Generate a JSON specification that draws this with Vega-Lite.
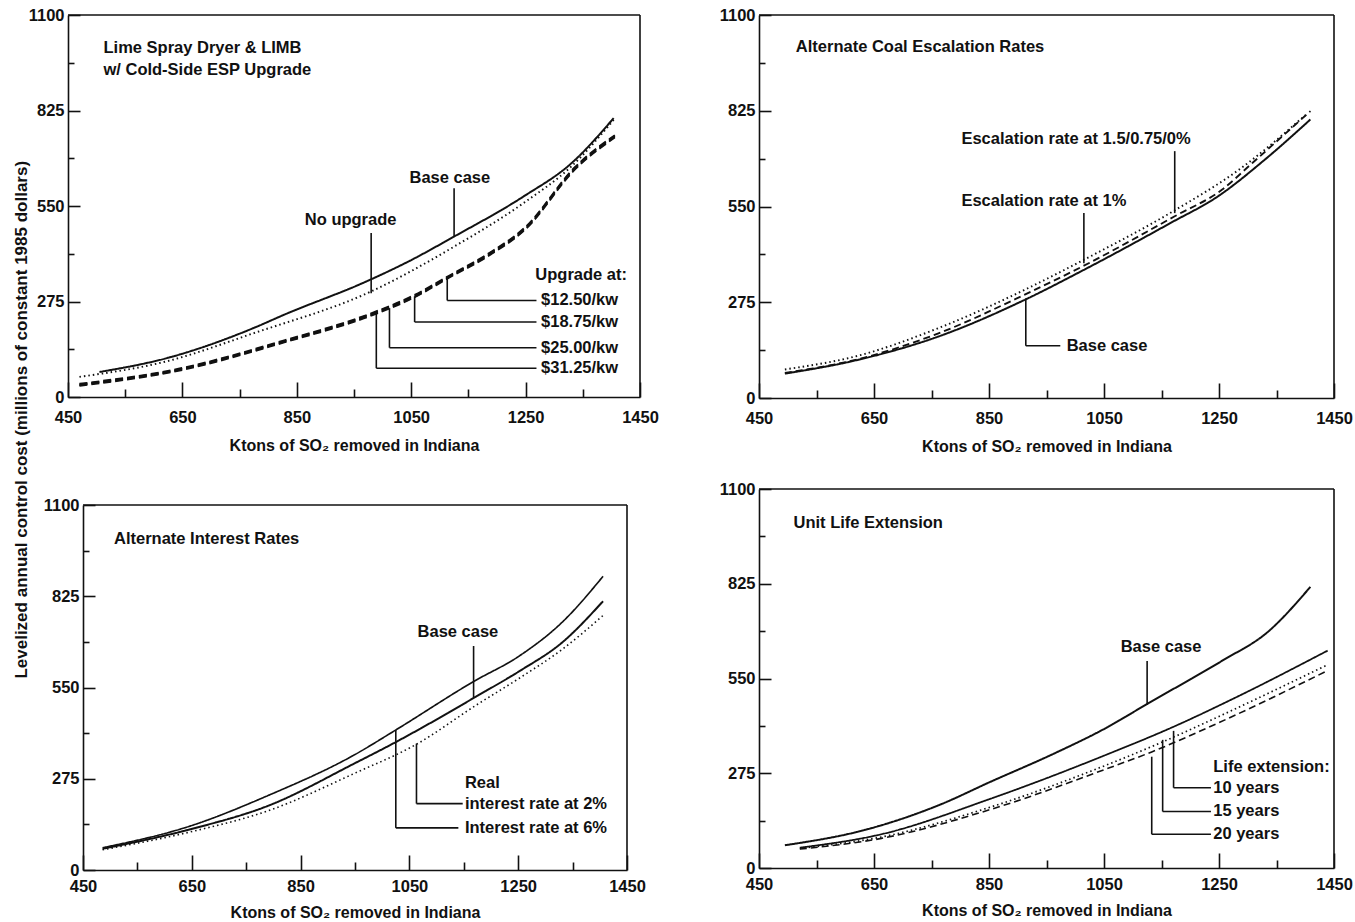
{
  "$schema": "https://vega.github.io/schema/vega-lite/v6.json",
  "background": "white",
  "padding": {"left": 13, "top": 7, "right": 2, "bottom": 2},
  "config": {
    "view": {"stroke": null},
    "font": "Liberation Sans",
    "axis": {
      "labelFont": "Liberation Sans", "labelFontSize": 16.5, "labelFontWeight": "bold", "labelColor": "#111",
      "titleFont": "Liberation Sans", "titleFontSize": 16, "titleFontWeight": "bold", "titleColor": "#111",
      "domainColor": "#111", "domainWidth": 1.6, "tickColor": "#111", "tickWidth": 1.6,
      "grid": false, "labelFlush": false, "labelOverlap": false
    },
    "title": {"font": "Liberation Sans", "fontSize": 17, "fontWeight": "bold", "color": "#111"}
  },
  "title": {"text": "Levelized annual control cost (millions of constant 1985 dollars)", "orient": "left", "anchor": "middle", "offset": -3, "dx": 44},
  "datasets": {
    "lines": [
      {"panel":"TL","series":"Base case","x":505,"y":72},{"panel":"TL","series":"Base case","x":623,"y":112},{"panel":"TL","series":"Base case","x":775,"y":199},{"panel":"TL","series":"Base case","x":828,"y":237},{"panel":"TL","series":"Base case","x":972,"y":333},{"panel":"TL","series":"Base case","x":1045,"y":390},{"panel":"TL","series":"Base case","x":1125,"y":462},{"panel":"TL","series":"Base case","x":1246,"y":577},{"panel":"TL","series":"Base case","x":1330,"y":673},{"panel":"TL","series":"Base case","x":1404,"y":803},
      {"panel":"TL","series":"No upgrade","x":470,"y":58},{"panel":"TL","series":"No upgrade","x":623,"y":103},{"panel":"TL","series":"No upgrade","x":775,"y":184},{"panel":"TL","series":"No upgrade","x":980,"y":304},{"panel":"TL","series":"No upgrade","x":1125,"y":433},{"panel":"TL","series":"No upgrade","x":1246,"y":558},{"panel":"TL","series":"No upgrade","x":1330,"y":664},{"panel":"TL","series":"No upgrade","x":1404,"y":798},
      {"panel":"TL","series":"Upgrade $12.50/kw","x":470,"y":38},{"panel":"TL","series":"Upgrade $12.50/kw","x":645,"y":82},{"panel":"TL","series":"Upgrade $12.50/kw","x":828,"y":163},{"panel":"TL","series":"Upgrade $12.50/kw","x":980,"y":241},{"panel":"TL","series":"Upgrade $12.50/kw","x":1056,"y":294},{"panel":"TL","series":"Upgrade $12.50/kw","x":1117,"y":350},{"panel":"TL","series":"Upgrade $12.50/kw","x":1185,"y":413},{"panel":"TL","series":"Upgrade $12.50/kw","x":1250,"y":490},{"panel":"TL","series":"Upgrade $12.50/kw","x":1337,"y":663},{"panel":"TL","series":"Upgrade $12.50/kw","x":1406,"y":754},
      {"panel":"TL","series":"Upgrade $18.75/kw","x":470,"y":36},{"panel":"TL","series":"Upgrade $18.75/kw","x":645,"y":80},{"panel":"TL","series":"Upgrade $18.75/kw","x":828,"y":161},{"panel":"TL","series":"Upgrade $18.75/kw","x":980,"y":239},{"panel":"TL","series":"Upgrade $18.75/kw","x":1056,"y":292},{"panel":"TL","series":"Upgrade $18.75/kw","x":1117,"y":348},{"panel":"TL","series":"Upgrade $18.75/kw","x":1185,"y":411},{"panel":"TL","series":"Upgrade $18.75/kw","x":1250,"y":488},{"panel":"TL","series":"Upgrade $18.75/kw","x":1337,"y":661},{"panel":"TL","series":"Upgrade $18.75/kw","x":1406,"y":752},
      {"panel":"TL","series":"Upgrade $25.00/kw","x":470,"y":34},{"panel":"TL","series":"Upgrade $25.00/kw","x":645,"y":78},{"panel":"TL","series":"Upgrade $25.00/kw","x":828,"y":159},{"panel":"TL","series":"Upgrade $25.00/kw","x":980,"y":236},{"panel":"TL","series":"Upgrade $25.00/kw","x":1056,"y":289},{"panel":"TL","series":"Upgrade $25.00/kw","x":1117,"y":346},{"panel":"TL","series":"Upgrade $25.00/kw","x":1185,"y":408},{"panel":"TL","series":"Upgrade $25.00/kw","x":1250,"y":485},{"panel":"TL","series":"Upgrade $25.00/kw","x":1337,"y":658},{"panel":"TL","series":"Upgrade $25.00/kw","x":1406,"y":749},
      {"panel":"TL","series":"Upgrade $31.25/kw","x":470,"y":32},{"panel":"TL","series":"Upgrade $31.25/kw","x":645,"y":76},{"panel":"TL","series":"Upgrade $31.25/kw","x":828,"y":157},{"panel":"TL","series":"Upgrade $31.25/kw","x":980,"y":234},{"panel":"TL","series":"Upgrade $31.25/kw","x":1056,"y":287},{"panel":"TL","series":"Upgrade $31.25/kw","x":1117,"y":344},{"panel":"TL","series":"Upgrade $31.25/kw","x":1185,"y":406},{"panel":"TL","series":"Upgrade $31.25/kw","x":1250,"y":483},{"panel":"TL","series":"Upgrade $31.25/kw","x":1337,"y":656},{"panel":"TL","series":"Upgrade $31.25/kw","x":1406,"y":747},
      {"panel":"TR","series":"Base case","x":495,"y":70},{"panel":"TR","series":"Base case","x":618,"y":108},{"panel":"TR","series":"Base case","x":761,"y":176},{"panel":"TR","series":"Base case","x":911,"y":281},{"panel":"TR","series":"Base case","x":1015,"y":368},{"panel":"TR","series":"Base case","x":1165,"y":502},{"panel":"TR","series":"Base case","x":1248,"y":579},{"panel":"TR","series":"Base case","x":1330,"y":685},{"panel":"TR","series":"Base case","x":1409,"y":800},
      {"panel":"TR","series":"Escalation 1.5/0.75/0%","x":495,"y":82},{"panel":"TR","series":"Escalation 1.5/0.75/0%","x":626,"y":123},{"panel":"TR","series":"Escalation 1.5/0.75/0%","x":761,"y":200},{"panel":"TR","series":"Escalation 1.5/0.75/0%","x":911,"y":310},{"panel":"TR","series":"Escalation 1.5/0.75/0%","x":1015,"y":397},{"panel":"TR","series":"Escalation 1.5/0.75/0%","x":1173,"y":539},{"panel":"TR","series":"Escalation 1.5/0.75/0%","x":1285,"y":656},{"panel":"TR","series":"Escalation 1.5/0.75/0%","x":1400,"y":812},
      {"panel":"TR","series":"Escalation 1%","x":495,"y":72},{"panel":"TR","series":"Escalation 1%","x":626,"y":113},{"panel":"TR","series":"Escalation 1%","x":761,"y":185},{"panel":"TR","series":"Escalation 1%","x":911,"y":296},{"panel":"TR","series":"Escalation 1%","x":1015,"y":380},{"panel":"TR","series":"Escalation 1%","x":1173,"y":522},{"panel":"TR","series":"Escalation 1%","x":1255,"y":598},{"panel":"TR","series":"Escalation 1%","x":1308,"y":675},{"panel":"TR","series":"Escalation 1%","x":1409,"y":824},
      {"panel":"BL","series":"Base case","x":486,"y":64},{"panel":"BL","series":"Base case","x":648,"y":123},{"panel":"BL","series":"Base case","x":791,"y":194},{"panel":"BL","series":"Base case","x":950,"y":322},{"panel":"BL","series":"Base case","x":1029,"y":389},{"panel":"BL","series":"Base case","x":1069,"y":425},{"panel":"BL","series":"Base case","x":1172,"y":522},{"panel":"BL","series":"Base case","x":1252,"y":599},{"panel":"BL","series":"Base case","x":1331,"y":686},{"panel":"BL","series":"Base case","x":1406,"y":810},
      {"panel":"BL","series":"Interest 6%","x":486,"y":67},{"panel":"BL","series":"Interest 6%","x":648,"y":133},{"panel":"BL","series":"Interest 6%","x":791,"y":225},{"panel":"BL","series":"Interest 6%","x":950,"y":348},{"panel":"BL","series":"Interest 6%","x":1025,"y":422},{"panel":"BL","series":"Interest 6%","x":1168,"y":568},{"panel":"BL","series":"Interest 6%","x":1252,"y":645},{"panel":"BL","series":"Interest 6%","x":1331,"y":747},{"panel":"BL","series":"Interest 6%","x":1406,"y":885},
      {"panel":"BL","series":"Real interest 2%","x":486,"y":61},{"panel":"BL","series":"Real interest 2%","x":648,"y":115},{"panel":"BL","series":"Real interest 2%","x":791,"y":179},{"panel":"BL","series":"Real interest 2%","x":950,"y":292},{"panel":"BL","series":"Real interest 2%","x":1063,"y":379},{"panel":"BL","series":"Real interest 2%","x":1172,"y":496},{"panel":"BL","series":"Real interest 2%","x":1252,"y":578},{"panel":"BL","series":"Real interest 2%","x":1331,"y":665},{"panel":"BL","series":"Real interest 2%","x":1406,"y":767},
      {"panel":"BR","series":"Base case","x":495,"y":66},{"panel":"BR","series":"Base case","x":633,"y":110},{"panel":"BR","series":"Base case","x":768,"y":186},{"panel":"BR","series":"Base case","x":851,"y":249},{"panel":"BR","series":"Base case","x":963,"y":332},{"panel":"BR","series":"Base case","x":1053,"y":406},{"panel":"BR","series":"Base case","x":1128,"y":479},{"panel":"BR","series":"Base case","x":1255,"y":601},{"panel":"BR","series":"Base case","x":1334,"y":684},{"panel":"BR","series":"Base case","x":1409,"y":816},
      {"panel":"BR","series":"Life extension 10 years","x":521,"y":59},{"panel":"BR","series":"Life extension 10 years","x":663,"y":98},{"panel":"BR","series":"Life extension 10 years","x":851,"y":200},{"panel":"BR","series":"Life extension 10 years","x":1053,"y":328},{"panel":"BR","series":"Life extension 10 years","x":1171,"y":410},{"panel":"BR","series":"Life extension 10 years","x":1278,"y":494},{"panel":"BR","series":"Life extension 10 years","x":1439,"y":631},
      {"panel":"BR","series":"Life extension 15 years","x":521,"y":57},{"panel":"BR","series":"Life extension 15 years","x":663,"y":90},{"panel":"BR","series":"Life extension 15 years","x":851,"y":176},{"panel":"BR","series":"Life extension 15 years","x":1053,"y":298},{"panel":"BR","series":"Life extension 15 years","x":1152,"y":366},{"panel":"BR","series":"Life extension 15 years","x":1250,"y":440},{"panel":"BR","series":"Life extension 15 years","x":1439,"y":590},
      {"panel":"BR","series":"Life extension 20 years","x":521,"y":55},{"panel":"BR","series":"Life extension 20 years","x":663,"y":86},{"panel":"BR","series":"Life extension 20 years","x":851,"y":169},{"panel":"BR","series":"Life extension 20 years","x":1053,"y":287},{"panel":"BR","series":"Life extension 20 years","x":1133,"y":337},{"panel":"BR","series":"Life extension 20 years","x":1250,"y":422},{"panel":"BR","series":"Life extension 20 years","x":1439,"y":573}
    ],
    "notes": [
      {"panel":"TL","label":"Lime Spray Dryer & LIMB","x":512,"y":1004},
      {"panel":"TL","label":"w/ Cold-Side ESP Upgrade","x":512,"y":942},
      {"panel":"TL","label":"Base case","x":1047,"y":630},
      {"panel":"TL","label":"No upgrade","x":864,"y":510},
      {"panel":"TL","label":"Upgrade at:","x":1267,"y":352},
      {"panel":"TL","label":"$12.50/kw","x":1277,"y":278},
      {"panel":"TL","label":"$18.75/kw","x":1277,"y":216},
      {"panel":"TL","label":"$25.00/kw","x":1277,"y":142},
      {"panel":"TL","label":"$31.25/kw","x":1277,"y":83},
      {"panel":"TR","label":"Alternate Coal Escalation Rates","x":514,"y":1007},
      {"panel":"TR","label":"Escalation rate at 1.5/0.75/0%","x":802,"y":743},
      {"panel":"TR","label":"Escalation rate at 1%","x":802,"y":565},
      {"panel":"TR","label":"Base case","x":985,"y":150},
      {"panel":"BL","label":"Alternate Interest Rates","x":507,"y":998},
      {"panel":"BL","label":"Base case","x":1065,"y":716},
      {"panel":"BL","label":"Real","x":1152,"y":261},
      {"panel":"BL","label":"interest rate at 2%","x":1152,"y":200},
      {"panel":"BL","label":"Interest rate at 6%","x":1152,"y":127},
      {"panel":"BR","label":"Unit Life Extension","x":510,"y":1002},
      {"panel":"BR","label":"Base case","x":1079,"y":640},
      {"panel":"BR","label":"Life extension:","x":1240,"y":293},
      {"panel":"BR","label":"10 years","x":1240,"y":233},
      {"panel":"BR","label":"15 years","x":1240,"y":164},
      {"panel":"BR","label":"20 years","x":1240,"y":98}
    ],
    "leaders": [
      {"panel":"TL","x":450,"y":1100,"x2":1450,"y2":1100},{"panel":"TL","x":1450,"y":0,"x2":1450,"y2":1100},
      {"panel":"TL","x":1125,"y":601,"x2":1125,"y2":462},
      {"panel":"TL","x":980,"y":472,"x2":980,"y2":299},
      {"panel":"TL","x":1113,"y":342,"x2":1113,"y2":278},{"panel":"TL","x":1113,"y":278,"x2":1269,"y2":278},
      {"panel":"TL","x":1056,"y":290,"x2":1056,"y2":216},{"panel":"TL","x":1056,"y":216,"x2":1269,"y2":216},
      {"panel":"TL","x":1012,"y":256,"x2":1012,"y2":142},{"panel":"TL","x":1012,"y":142,"x2":1269,"y2":142},
      {"panel":"TL","x":989,"y":242,"x2":989,"y2":83},{"panel":"TL","x":989,"y":83,"x2":1269,"y2":83},
      {"panel":"TR","x":450,"y":1100,"x2":1450,"y2":1100},{"panel":"TR","x":1450,"y":0,"x2":1450,"y2":1100},
      {"panel":"TR","x":1173,"y":709,"x2":1173,"y2":531},
      {"panel":"TR","x":1015,"y":531,"x2":1015,"y2":387},
      {"panel":"TR","x":914,"y":286,"x2":914,"y2":150},{"panel":"TR","x":914,"y":150,"x2":974,"y2":150},
      {"panel":"BL","x":450,"y":1100,"x2":1450,"y2":1100},{"panel":"BL","x":1450,"y":0,"x2":1450,"y2":1100},
      {"panel":"BL","x":1168,"y":675,"x2":1168,"y2":520},
      {"panel":"BL","x":1063,"y":381,"x2":1063,"y2":200},{"panel":"BL","x":1063,"y":200,"x2":1148,"y2":200},
      {"panel":"BL","x":1025,"y":422,"x2":1025,"y2":127},{"panel":"BL","x":1025,"y":127,"x2":1140,"y2":127},
      {"panel":"BR","x":450,"y":1100,"x2":1450,"y2":1100},{"panel":"BR","x":1450,"y":0,"x2":1450,"y2":1100},
      {"panel":"BR","x":1125,"y":601,"x2":1125,"y2":474},
      {"panel":"BR","x":1171,"y":398,"x2":1171,"y2":233},{"panel":"BR","x":1171,"y":233,"x2":1236,"y2":233},
      {"panel":"BR","x":1152,"y":372,"x2":1152,"y2":164},{"panel":"BR","x":1152,"y":164,"x2":1236,"y2":164},
      {"panel":"BR","x":1133,"y":323,"x2":1133,"y2":98},{"panel":"BR","x":1133,"y":98,"x2":1236,"y2":98}
    ]
  },
  "spacing": 60,
  "hconcat": [
    {
      "spacing": 43,
      "vconcat": [
        {
          "width": 572, "height": 382,
          "encoding": {
            "x": {"field": "x", "type": "quantitative", "title": "Ktons of SO₂ removed in Indiana", "scale": {"domain": [450, 1450], "nice": false, "zero": false},
              "axis": {"values": [450,550,650,750,850,950,1050,1150,1250,1350,1450], "format": "d", "labelExpr": "datum.value % 200 == 50 ? datum.label : ''", "tickSize": {"condition": {"test": "datum.value % 200 == 50", "value": -15}, "value": -8}, "labelPadding": 27, "titlePadding": 5}},
            "y": {"field": "y", "type": "quantitative", "title": null, "scale": {"domain": [0, 1100], "nice": false},
              "axis": {"values": [0,137.5,275,412.5,550,687.5,825,962.5,1100], "format": "d", "labelExpr": "datum.value % 275 == 0 ? datum.label : ''", "tickSize": {"condition": {"test": "datum.value % 275 == 0", "value": -12}, "value": -6}, "labelPadding": 16}}
          },
          "layer": [
            {"data": {"name": "lines"}, "transform": [{"filter": "datum.panel == 'TL'"}],
             "mark": {"type": "line", "interpolate": "monotone", "color": "#111"},
             "encoding": {"detail": {"field": "series"},
               "strokeDash": {"field": "series", "type": "nominal", "legend": null, "scale": {"domain": ["Base case","No upgrade","Upgrade $12.50/kw","Upgrade $18.75/kw","Upgrade $25.00/kw","Upgrade $31.25/kw"], "range": [[1,0],[1.5,3],[8,4],[8,4],[8,4],[8,4]]}},
               "strokeWidth": {"field": "series", "type": "nominal", "legend": null, "scale": {"domain": ["Base case","No upgrade","Upgrade $12.50/kw","Upgrade $18.75/kw","Upgrade $25.00/kw","Upgrade $31.25/kw"], "range": [2,1.6,2.6,2.6,2.6,2.6]}}}},
            {"data": {"name": "leaders"}, "transform": [{"filter": "datum.panel == 'TL'"}],
             "mark": {"type": "rule", "color": "#111", "strokeWidth": 1.6},
             "encoding": {"x2": {"field": "x2"}, "y2": {"field": "y2"}}},
            {"data": {"name": "notes"}, "transform": [{"filter": "datum.panel == 'TL'"}],
             "mark": {"type": "text", "align": "left", "baseline": "middle", "font": "Liberation Sans", "fontSize": 16.5, "fontWeight": "bold", "color": "#111"},
             "encoding": {"text": {"field": "label"}}}
          ]
        },
        {
          "width": 559, "height": 365,
          "encoding": {
            "x": {"field": "x", "type": "quantitative", "title": "Ktons of SO₂ removed in Indiana", "scale": {"domain": [450, 1450], "range": [15, 559], "nice": false, "zero": false},
              "axis": {"values": [450,550,650,750,850,950,1050,1150,1250,1350,1450], "format": "d", "labelExpr": "datum.value % 200 == 50 ? datum.label : ''", "tickSize": {"condition": {"test": "datum.value % 200 == 50", "value": -15}, "value": -8}, "labelPadding": 23, "titlePadding": 3}},
            "y": {"field": "y", "type": "quantitative", "title": null, "scale": {"domain": [0, 1100], "nice": false},
              "axis": {"offset": -15, "values": [0,137.5,275,412.5,550,687.5,825,962.5,1100], "format": "d", "labelExpr": "datum.value % 275 == 0 ? datum.label : ''", "tickSize": {"condition": {"test": "datum.value % 275 == 0", "value": -12}, "value": -6}, "labelPadding": 16}}
          },
          "layer": [
            {"data": {"name": "lines"}, "transform": [{"filter": "datum.panel == 'BL'"}],
             "mark": {"type": "line", "interpolate": "monotone", "color": "#111"},
             "encoding": {"detail": {"field": "series"},
               "strokeDash": {"field": "series", "type": "nominal", "legend": null, "scale": {"domain": ["Base case","Interest 6%","Real interest 2%"], "range": [[1,0],[8,5],[1.5,3]]}},
               "strokeWidth": {"field": "series", "type": "nominal", "legend": null, "scale": {"domain": ["Base case","Interest 6%","Real interest 2%"], "range": [2,1.8,1.6]}}}},
            {"data": {"name": "leaders"}, "transform": [{"filter": "datum.panel == 'BL'"}],
             "mark": {"type": "rule", "color": "#111", "strokeWidth": 1.6},
             "encoding": {"x2": {"field": "x2"}, "y2": {"field": "y2"}}},
            {"data": {"name": "notes"}, "transform": [{"filter": "datum.panel == 'BL'"}],
             "mark": {"type": "text", "align": "left", "baseline": "middle", "font": "Liberation Sans", "fontSize": 16.5, "fontWeight": "bold", "color": "#111"},
             "encoding": {"text": {"field": "label"}}}
          ]
        }
      ]
    },
    {
      "spacing": 26,
      "vconcat": [
        {
          "width": 575, "height": 383,
          "encoding": {
            "x": {"field": "x", "type": "quantitative", "title": "Ktons of SO₂ removed in Indiana", "scale": {"domain": [450, 1450], "nice": false, "zero": false},
              "axis": {"values": [450,550,650,750,850,950,1050,1150,1250,1350,1450], "format": "d", "labelExpr": "datum.value % 200 == 50 ? datum.label : ''", "tickSize": {"condition": {"test": "datum.value % 200 == 50", "value": -15}, "value": -8}, "labelPadding": 27, "titlePadding": 5}},
            "y": {"field": "y", "type": "quantitative", "title": null, "scale": {"domain": [0, 1100], "nice": false},
              "axis": {"values": [0,137.5,275,412.5,550,687.5,825,962.5,1100], "format": "d", "labelExpr": "datum.value % 275 == 0 ? datum.label : ''", "tickSize": {"condition": {"test": "datum.value % 275 == 0", "value": -12}, "value": -6}, "labelPadding": 16}}
          },
          "layer": [
            {"data": {"name": "lines"}, "transform": [{"filter": "datum.panel == 'TR'"}],
             "mark": {"type": "line", "interpolate": "monotone", "color": "#111"},
             "encoding": {"detail": {"field": "series"},
               "strokeDash": {"field": "series", "type": "nominal", "legend": null, "scale": {"domain": ["Base case","Escalation 1.5/0.75/0%","Escalation 1%"], "range": [[1,0],[1.5,3],[7,4]]}},
               "strokeWidth": {"field": "series", "type": "nominal", "legend": null, "scale": {"domain": ["Base case","Escalation 1.5/0.75/0%","Escalation 1%"], "range": [2,1.6,2.2]}}}},
            {"data": {"name": "leaders"}, "transform": [{"filter": "datum.panel == 'TR'"}],
             "mark": {"type": "rule", "color": "#111", "strokeWidth": 1.6},
             "encoding": {"x2": {"field": "x2"}, "y2": {"field": "y2"}}},
            {"data": {"name": "notes"}, "transform": [{"filter": "datum.panel == 'TR'"}],
             "mark": {"type": "text", "align": "left", "baseline": "middle", "font": "Liberation Sans", "fontSize": 16.5, "fontWeight": "bold", "color": "#111"},
             "encoding": {"text": {"field": "label"}}}
          ]
        },
        {
          "width": 575, "height": 379,
          "encoding": {
            "x": {"field": "x", "type": "quantitative", "title": "Ktons of SO₂ removed in Indiana", "scale": {"domain": [450, 1450], "nice": false, "zero": false},
              "axis": {"values": [450,550,650,750,850,950,1050,1150,1250,1350,1450], "format": "d", "labelExpr": "datum.value % 200 == 50 ? datum.label : ''", "tickSize": {"condition": {"test": "datum.value % 200 == 50", "value": -15}, "value": -8}, "labelPadding": 23, "titlePadding": 3}},
            "y": {"field": "y", "type": "quantitative", "title": null, "scale": {"domain": [0, 1100], "nice": false},
              "axis": {"values": [0,137.5,275,412.5,550,687.5,825,962.5,1100], "format": "d", "labelExpr": "datum.value % 275 == 0 ? datum.label : ''", "tickSize": {"condition": {"test": "datum.value % 275 == 0", "value": -12}, "value": -6}, "labelPadding": 16}}
          },
          "layer": [
            {"data": {"name": "lines"}, "transform": [{"filter": "datum.panel == 'BR'"}],
             "mark": {"type": "line", "interpolate": "monotone", "color": "#111"},
             "encoding": {"detail": {"field": "series"},
               "strokeDash": {"field": "series", "type": "nominal", "legend": null, "scale": {"domain": ["Base case","Life extension 10 years","Life extension 15 years","Life extension 20 years"], "range": [[1,0],[1.5,3],[8,3,2,3],[8,4]]}},
               "strokeWidth": {"field": "series", "type": "nominal", "legend": null, "scale": {"domain": ["Base case","Life extension 10 years","Life extension 15 years","Life extension 20 years"], "range": [2,1.6,2,2]}}}},
            {"data": {"name": "leaders"}, "transform": [{"filter": "datum.panel == 'BR'"}],
             "mark": {"type": "rule", "color": "#111", "strokeWidth": 1.6},
             "encoding": {"x2": {"field": "x2"}, "y2": {"field": "y2"}}},
            {"data": {"name": "notes"}, "transform": [{"filter": "datum.panel == 'BR'"}],
             "mark": {"type": "text", "align": "left", "baseline": "middle", "font": "Liberation Sans", "fontSize": 16.5, "fontWeight": "bold", "color": "#111"},
             "encoding": {"text": {"field": "label"}}}
          ]
        }
      ]
    }
  ],
  "resolve": {"scale": {"strokeDash": "independent", "strokeWidth": "independent"}}
}
